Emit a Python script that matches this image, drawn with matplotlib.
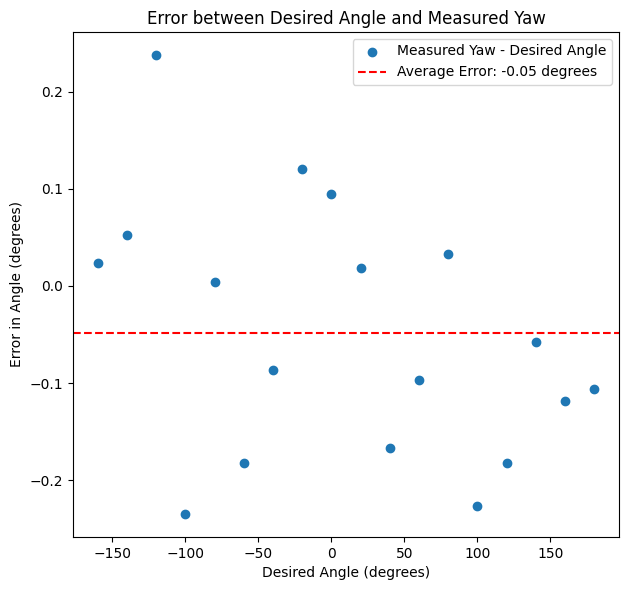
import numpy as np
import matplotlib
matplotlib.use('Agg')
import matplotlib.pyplot as plt

desired = [-160, -140, -120, -100, -80, -60, -40, -20, 0, 20, 40, 60, 80, 100, 120, 140, 160, 180]
error = [0.024, 0.053, 0.238, -0.235, 0.004, -0.182, -0.087, 0.120, 0.095, 0.018,
         -0.167, -0.097, 0.033, -0.227, -0.182, -0.058, -0.119, -0.106]

avg = np.mean(error)

fig = plt.figure(figsize=(6.28, 5.9), dpi=100)
plt.scatter(desired, error, label='Measured Yaw - Desired Angle')
plt.axhline(avg, color='r', linestyle='--', label=f'Average Error: {avg:.2f} degrees')
plt.title('Error between Desired Angle and Measured Yaw')
plt.xlabel('Desired Angle (degrees)')
plt.ylabel('Error in Angle (degrees)')
plt.legend()
plt.subplots_adjust(left=0.1162, right=0.9857, bottom=0.0898, top=0.9458)
plt.savefig('out.png')
